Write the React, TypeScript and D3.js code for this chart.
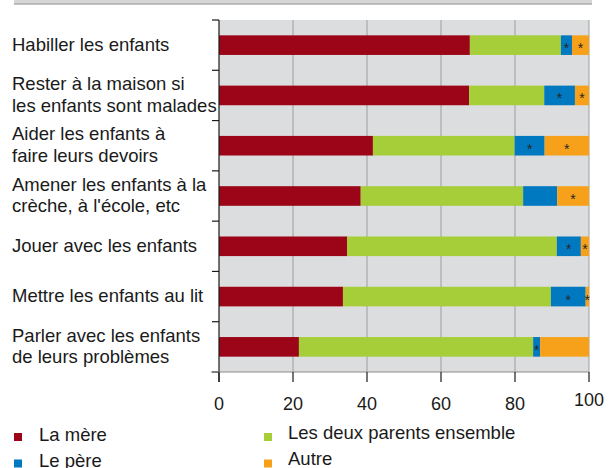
import React from "react";
import * as d3 from "d3";

const categories: string[][] = [
  ["Habiller les enfants"],
  ["Rester à la maison si", "les enfants sont malades"],
  ["Aider les enfants à", "faire leurs devoirs"],
  ["Amener les enfants à la", "crèche, à l'école, etc"],
  ["Jouer avec les enfants"],
  ["Mettre les enfants au lit"],
  ["Parler avec les enfants", "de leurs problèmes"],
];

const mere = [67.8, 67.6, 41.6, 38.3, 34.6, 33.5, 21.6];
const deuxParents = [24.6, 20.3, 38.3, 43.9, 56.7, 56.2, 63.3];
const pere = [3.0, 8.3, 8.1, 9.2, 6.5, 9.4, 1.9];
const autre = [4.6, 3.8, 12.0, 8.6, 2.2, 0.9, 13.2];

// asterisk flags (low-reliability estimates)
const pereStar = [true, true, true, false, true, true, true];
const autreStar = [true, true, true, true, true, true, false];

const seriesNames = ["La mère", "Les deux parents ensemble", "Le père", "Autre"];
const seriesKeys = ["mere", "deux", "pere", "autre"];
const seriesColors = ["#9b0517", "#a6ce39", "#0079c1", "#f7a11b"];

const xTicks = [0, 20, 40, 60, 80, 100];

const W = 610;
const H = 468;
const FONT = "'Liberation Sans', Arial, Helvetica, sans-serif";

export default function App() {
  const left = 219;
  const right = 589;
  const top = 20;
  const bottom = 372;

  const x = d3.scaleLinear().domain([0, 100]).range([left, right]);
  const y = d3
    .scaleBand<number>()
    .domain(d3.range(categories.length))
    .range([top, bottom])
    .paddingInner(0.61)
    .paddingOuter(0.305);
  const rowScale = d3
    .scaleBand<number>()
    .domain(d3.range(categories.length))
    .range([top, bottom])
    .padding(0);

  const table = categories.map((_, i) => ({
    mere: mere[i],
    deux: deuxParents[i],
    pere: pere[i],
    autre: autre[i],
  }));
  const stacked = d3.stack<any>().keys(seriesKeys)(table);

  const stars: Record<string, boolean[]> = { pere: pereStar, autre: autreStar };

  const boundaries = d3.range(categories.length + 1).map((i) =>
    i < categories.length ? rowScale(i)! : bottom
  );

  const lineH = 21.5;

  return (
    <svg
      width={W}
      height={H}
      style={{ position: "absolute", left: 0, top: 0, background: "#fff" }}
      fontFamily={FONT}
    >
      {/* header band */}
      <rect x={14} y={0} width={578} height={3.2} fill="#d6d6d6" />
      <rect x={14} y={3.2} width={578} height={1.5} fill="#a7a7a7" />

      {/* plot background */}
      <rect x={left} y={top} width={right - left} height={bottom - top} fill="#dcdddf" />

      {/* vertical gridlines */}
      {xTicks.slice(1).map((t) => (
        <line key={t} x1={x(t)} x2={x(t)} y1={top} y2={bottom} stroke="#9d9d9d" strokeWidth={1} />
      ))}

      {/* bars */}
      {stacked.map((s, si) => (
        <g key={s.key} fill={seriesColors[si]}>
          {s.map((d, i) => {
            const x0 = x(d[0]);
            const x1 = x(d[1]);
            const yy = y(i)!;
            const bh = y.bandwidth();
            const flag = stars[s.key as string]?.[i];
            return (
              <g key={i}>
                <rect x={x0} y={yy} width={Math.max(0, x1 - x0)} height={bh} />
                {flag && (
                  <text
                    x={(x0 + x1) / 2}
                    y={yy + bh / 2 + 8}
                    textAnchor="middle"
                    fontSize={14}
                    fill="#262626"
                  >
                    *
                  </text>
                )}
              </g>
            );
          })}
        </g>
      ))}

      {/* left axis */}
      <line x1={left} x2={left} y1={top} y2={bottom + 10} stroke="#1a1a1a" strokeWidth={1.2} />
      {boundaries.map((b, i) => (
        <line key={i} x1={left - 7} x2={left} y1={b} y2={b} stroke="#1a1a1a" strokeWidth={1.2} />
      ))}

      {/* bottom axis */}
      <line x1={left - 8} x2={right} y1={bottom} y2={bottom} stroke="#8c8c8c" strokeWidth={1.2} />
      {xTicks.map((t) => (
        <g key={t}>
          <line x1={x(t)} x2={x(t)} y1={bottom} y2={bottom + 10} stroke="#1a1a1a" strokeWidth={1.2} />
          <text
            x={x(t)}
            y={t === 100 ? 406 : 410}
            textAnchor="middle"
            fontSize={18}
            fill="#1a1a1a"
          >
            {t}
          </text>
        </g>
      ))}

      {/* category labels */}
      {categories.map((lines, i) => {
        const cy = rowScale(i)! + rowScale.bandwidth() / 2 - 1;
        const y0 = cy - ((lines.length - 1) * lineH) / 2 + 6.5;
        return (
          <text key={i} fontSize={18.5} fill="#1a1a1a">
            {lines.map((l, j) => (
              <tspan key={j} x={12} y={y0 + j * lineH}>
                {l}
              </tspan>
            ))}
          </text>
        );
      })}

      {/* legend */}
      {seriesNames.map((name, i) => {
        const col = i % 2;
        const row = Math.floor(i / 2);
        const order = [0, 1, 2, 3];
        const ci = order[i];
        const lx = col === 0 ? 14 : 264;
        const tx = col === 0 ? 39 : 288;
        const ly = 433 + row * 26.5;
        return (
          <g key={name}>
            <rect x={lx} y={ly} width={8} height={8} fill={seriesColors[ci]} />
            <text x={tx} y={ly + 7.5 - (col === 1 ? 2 : 0)} fontSize={18.5} fill="#1a1a1a">
              {name}
            </text>
          </g>
        );
      })}
    </svg>
  );
}
